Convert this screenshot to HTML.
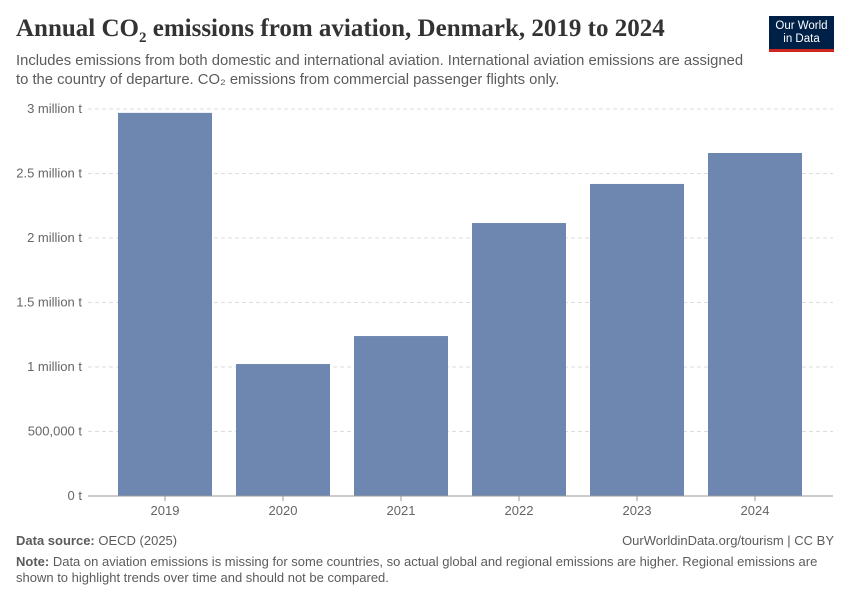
<!DOCTYPE html>
<html><head><meta charset="utf-8">
<style>
body{margin:0;background:#fff;width:850px;height:600px;overflow:hidden;font-family:"Liberation Sans",sans-serif;}
.t{position:absolute;white-space:nowrap;}
</style></head><body>
<div class="t" style="left:16px;top:15px;font-family:'Liberation Serif',serif;font-size:25px;font-weight:bold;color:#333;">Annual CO<sub style="font-size:15px">2</sub> emissions from aviation, Denmark, 2019 to 2024</div>
<div class="t" style="left:16px;top:52px;font-size:14.8px;color:#5b5b5b;line-height:19px;">Includes emissions from both domestic and international aviation. International aviation emissions are assigned<br>to the country of departure. CO₂ emissions from commercial passenger flights only.</div>
<div style="position:absolute;left:769px;top:16px;width:65px;height:36px;background:#002147;border-bottom:3px solid #ce261e;color:#fff;font-size:11.5px;line-height:13px;text-align:center;padding-top:4px;box-sizing:border-box;">Our World<br>in Data</div>
<svg id="chart" style="position:absolute;left:0;top:0" width="850" height="600"></svg>
<div class="t" style="left:16px;top:533px;font-size:13px;color:#5b5b5b;"><b>Data source:</b> OECD (2025)</div>
<div class="t" style="right:16px;top:533px;font-size:13px;color:#5b5b5b;">OurWorldinData.org/tourism | CC BY</div>
<div class="t" style="left:16px;top:554px;font-size:13px;color:#5b5b5b;line-height:16px;"><b>Note:</b> Data on aviation emissions is missing for some countries, so actual global and regional emissions are higher. Regional emissions are<br>shown to highlight trends over time and should not be compared.</div>
<script>
const categories=["2019","2020","2021","2022","2023","2024"];
const values=[2970000,1023000,1240000,2116000,2419000,2659000];
const tickValues=[0,500000,1000000,1500000,2000000,2500000,3000000];
const tickLabels=["0 t","500,000 t","1 million t","1.5 million t","2 million t","2.5 million t","3 million t"];
const svg=document.getElementById('chart');
const NS="http://www.w3.org/2000/svg";
const y0=496,yTop=109,maxV=3000000;
const y=v=>y0-(v/maxV)*(y0-yTop);
const x=i=>165+i*118;
function mk(t,a){const e=document.createElementNS(NS,t);for(const k in a)e.setAttribute(k,a[k]);svg.appendChild(e);return e;}
tickValues.forEach((v,i)=>{
  if(v>0){const l=mk('line',{x1:88,x2:833,y1:y(v),y2:y(v),stroke:'#ddd','stroke-dasharray':'4,3'});
  
  }
  const t=mk('text',{x:82,y:y(v)+4,'text-anchor':'end','font-size':13,fill:'#666','font-family':'Liberation Sans, sans-serif'});
  t.textContent=tickLabels[i];
  
  
});
values.forEach((v,i)=>{
  const r=mk('rect',{x:x(i)-47,y:y(v),width:94,height:y0-y(v),fill:'#6d87b0'});
  
  
  const tk=mk('line',{x1:x(i),x2:x(i),y1:y0,y2:y0+5,stroke:'#999'});
  
  
  const t=mk('text',{x:x(i),y:y0+19,'text-anchor':'middle','font-size':13,fill:'#666','font-family':'Liberation Sans, sans-serif'});
  t.textContent=categories[i];
  
  
});
const ax=mk('line',{x1:88,x2:833,y1:y0,y2:y0,stroke:'#999'});


</script>
</body></html>
